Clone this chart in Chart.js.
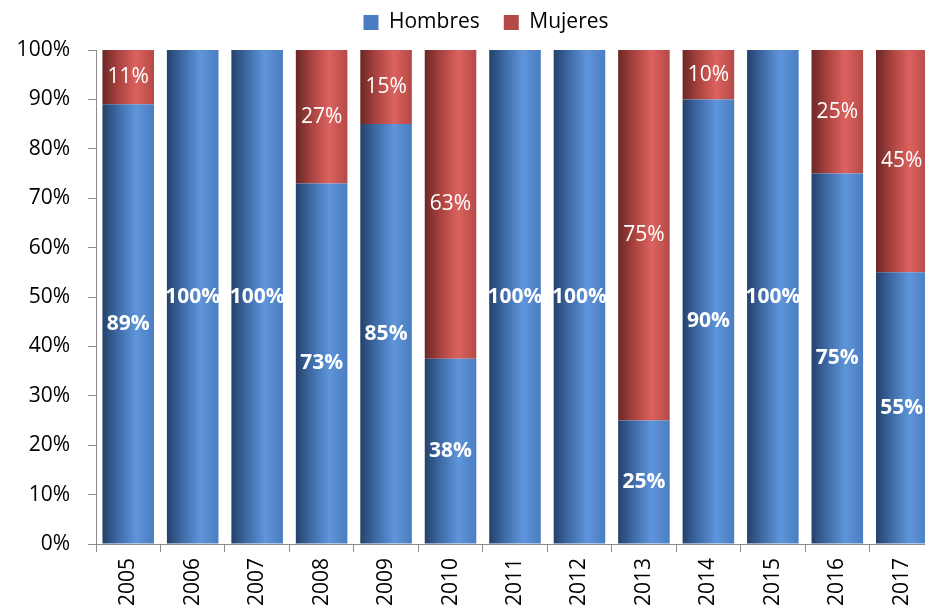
<!DOCTYPE html>
<html>
<head>
<meta charset="utf-8">
<script src="https://cdn.jsdelivr.net/npm/chart.js@4.4.1/dist/chart.umd.min.js"></script>
<style>
  body { margin: 0; overflow: hidden; background: #fff; }
  #wrap { position: absolute; left: 0; top: 0; width: 934px; height: 615px; }
</style>
</head>
<body>
<div id="wrap"><canvas id="chart"></canvas></div>
<script>
//years on the x axis
const years = ["2005", "2006", "2007", "2008", "2009", "2010", "2011", "2012", "2013", "2014", "2015", "2016", "2017"];
//share of men and women per year (percent)
const hombres = [89, 100, 100, 73, 85, 37.5, 100, 100, 25, 90, 100, 75, 55];
const mujeres = [11, 0, 0, 27, 15, 62.5, 0, 0, 75, 10, 0, 25, 45];
const seriesNames = ["Hombres", "Mujeres"];

const font = "'Open Sans', Lato, sans-serif";

//cylinder like shading: dark left edge, light band, darker right edge
const shades = {
  blue: ["#24426a", "#3e6aa6", "#5f95da", "#4a7dc2"],
  red: ["#6a2826", "#a8423f", "#dc625e", "#b44a47"],
};

const shaded = (name) => (context) => {
  const chart = context.chart;
  const flat = shades[name][2];
  if (context.dataIndex === undefined || !chart.chartArea || !chart.scales.x) return flat;
  const x = chart.scales.x;
  const center = x.getPixelForValue(context.dataIndex);
  const half = (x.width / years.length) * 0.8 / 2;
  const g = chart.ctx.createLinearGradient(center - half, 0, center + half, 0);
  const s = shades[name];
  g.addColorStop(0, s[0]);
  g.addColorStop(0.3, s[1]);
  g.addColorStop(0.65, s[2]);
  g.addColorStop(1, s[3]);
  return g;
};

//values written inside each bar segment
const barLabels = {
  id: "barLabels",
  afterDatasetsDraw(chart) {
    const ctx = chart.ctx;
    ctx.save();
    ctx.fillStyle = "#ffffff";
    ctx.textAlign = "center";
    ctx.textBaseline = "middle";
    chart.data.datasets.forEach((ds, i) => {
      const meta = chart.getDatasetMeta(i);
      ctx.font = (i === 0 ? "bold " : "") + "21px " + font;
      meta.data.forEach((bar, j) => {
        const v = ds.data[j];
        if (!v) return;
        ctx.fillText(Math.round(v) + "%", bar.x, (bar.y + bar.base) / 2);
      });
    });
    ctx.restore();
  },
};

//fixed legend band height, and legend nudged like in the original
const legendPlace = {
  id: "legendPlace",
  beforeLayout(chart) {
    const leg = chart.legend;
    if (leg && !leg._fixed) {
      const fit = leg.fit.bind(leg);
      leg.fit = function () {
        fit();
        this.height = 46;
      };
      leg._fixed = true;
    }
  },
  afterLayout(chart) {
    chart.legend.left += 19;
    chart.legend.right += 19;
    chart.legend.top -= 16;
    chart.legend.bottom -= 16;
  },
};

new Chart(document.getElementById("chart"), {
  type: "bar",
  plugins: [barLabels, legendPlace],
  data: {
    labels: years,
    datasets: [
      { label: seriesNames[0], data: hombres, backgroundColor: shaded("blue") },
      { label: seriesNames[1], data: mujeres, backgroundColor: shaded("red") },
    ],
  },
  options: {
    responsive: true,
    maintainAspectRatio: false,
    animation: false,
    layout: { padding: { top: 4, right: 0, bottom: 0, left: 0 } },
    datasets: { bar: { barPercentage: 0.8, categoryPercentage: 1 } },
    plugins: {
      tooltip: { enabled: false },
      legend: {
        position: "top",
        labels: {
          color: "#000",
          font: { size: 21, family: font },
          boxWidth: 15,
          boxHeight: 15,
          padding: 24,
        },
      },
    },
    scales: {
      x: {
        stacked: true,
        grid: { drawOnChartArea: false, drawTicks: true, tickLength: 8, color: "#8c8c8c" },
        border: { color: "#8c8c8c", width: 1 },
        ticks: {
          color: "#000",
          font: { size: 21, family: font },
          minRotation: 90,
          maxRotation: 90,
          padding: 6,
        },
        afterFit: (scale) => { scale.height = 71; },
      },
      y: {
        stacked: true,
        min: 0,
        max: 100,
        grid: { drawOnChartArea: false, drawTicks: true, tickLength: 8, color: "#8c8c8c" },
        border: { color: "#8c8c8c", width: 1 },
        ticks: {
          stepSize: 10,
          color: "#000",
          font: { size: 21, family: font },
          padding: 18,
          callback: (v) => v + "%",
        },
        afterFit: (scale) => { scale.width = 96; },
      },
    },
  },
});
</script>
</body>
</html>
